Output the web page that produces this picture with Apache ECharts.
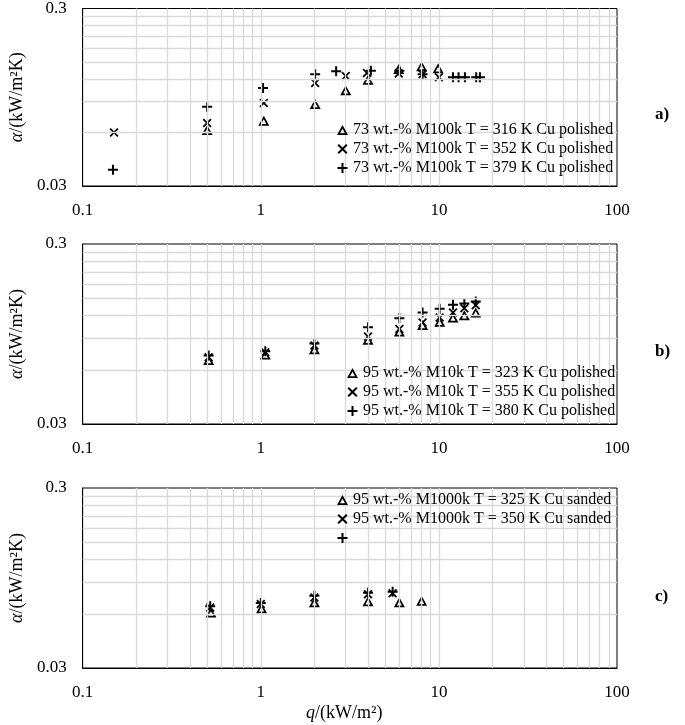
<!DOCTYPE html>
<html>
<head>
<meta charset="utf-8">
<script src="https://cdn.jsdelivr.net/npm/echarts@6/dist/echarts.min.js"></script>
<style>
html, body { margin: 0; padding: 0; background: #fff; }
#chart { width: 685px; height: 725px; }
</style>
</head>
<body>
<div id="chart"></div>
<script>
// panel a) 73 wt.-% M100k, Cu polished
var qA316 = [0.5, 1.04, 2.02, 3.0, 4.0, 5.95, 8.0, 9.9];
var aA316 = [0.062, 0.070, 0.087, 0.104, 0.119, 0.137, 0.142, 0.138];
var qA352 = [0.15, 0.5, 1.04, 2.02, 3.0, 3.95, 5.95, 8.1, 10.0];
var aA352 = [0.060, 0.068, 0.088, 0.114, 0.125, 0.130, 0.129, 0.128, 0.123];
var qA379 = [0.148, 0.5, 1.03, 2.02, 2.65, 4.15, 6.0, 8.1, 12.0, 12.9, 14.0, 16.2, 17.0];
var aA379 = [0.037, 0.084, 0.107, 0.128, 0.133, 0.134, 0.134, 0.128, 0.123, 0.123, 0.123, 0.123, 0.123];

// panel b) 95 wt.-% M10k, Cu polished
var qB = [0.51, 1.06, 2.0, 4.0, 6.0, 8.1, 10.1, 12.0, 13.9, 16.1];
var aB323 = [0.068, 0.073, 0.078, 0.088, 0.098, 0.1065, 0.111, 0.117, 0.1205, 0.125];
var aB355 = [0.0705, 0.075, 0.082, 0.092, 0.101, 0.110, 0.117, 0.125, 0.132, 0.137];
var aB380 = [0.072, 0.076, 0.084, 0.1035, 0.116, 0.125, 0.131, 0.138, 0.140, 0.144];

// panel c) 95 wt.-% M1000k, Cu sanded
var qC325 = [0.525, 1.01, 2.0, 4.0, 6.0, 8.0];
var aC325 = [0.061, 0.0645, 0.0695, 0.0705, 0.0695, 0.071];
var qC350 = [0.52, 1.0, 2.0, 4.0, 5.5];
var aC350 = [0.065, 0.068, 0.074, 0.077, 0.078];
var aCplus = [0.066, 0.069, 0.0755, 0.0785, 0.0795];

var xGridValues = [0.2, 0.3, 0.4, 0.5, 0.6, 0.7, 0.8, 0.9, 1, 2, 3, 4, 5, 6, 7, 8, 9, 10, 20, 30, 40, 50, 60, 70, 80, 90];
var yGridValues = [0.06, 0.09, 0.12, 0.15, 0.18, 0.21, 0.24, 0.27];
var yTickLabels = [0.03, 0.3];

var FONT = 'Liberation Serif';
var TRI = 'path://M5,0L10,9L0,9Z M5,3.3L2.72,7.4L7.28,7.4Z';
var CROSS = 'path://M0,1.4L1.4,0L5,3.6L8.6,0L10,1.4L6.4,5L10,8.6L8.6,10L5,6.4L1.4,10L0,8.6L3.6,5Z';
var PLUS = 'path://M4,0H6V4H10V6H6V10H4V6H0V4H4Z';

var tops = [8, 244, 488];
var panelH = [178, 180, 180];

function pts(q, a) {
  return q.map(function (v, i) { return [v, a[i]]; });
}

var grids = [], xAxes = [], yAxes = [], series = [];
tops.forEach(function (t, i) {
  grids.push({ left: 79, right: 68, top: t, height: panelH[i], show: true, borderColor: '#000', borderWidth: 1, containLabel: false });
  xAxes.push({
    type: 'log', gridIndex: i, min: 0.1, max: 100, logBase: 10,
    axisLine: { lineStyle: { color: '#000', width: 1 } },
    axisTick: { show: false }, splitLine: { show: false },
    axisLabel: { color: '#000', fontFamily: FONT, fontSize: 17, margin: 16 }
  });
  yAxes.push({
    type: 'log', gridIndex: i, min: 0.03, max: 0.3, logBase: 10,
    name: '{i|α}/(kW/m²K)', nameLocation: 'middle', nameRotate: 90, nameGap: 50,
    nameTextStyle: { color: '#000', fontFamily: FONT, fontSize: 18,
      rich: { i: { fontStyle: 'italic', fontFamily: FONT, fontSize: 18, color: '#000' } } },
    axisLine: { lineStyle: { color: '#000', width: 1 } },
    axisTick: { show: false }, splitLine: { show: false },
    axisLabel: {
      color: '#000', fontFamily: FONT, fontSize: 17, margin: 16, showMinLabel: true, showMaxLabel: true,
      formatter: function (v) {
        var r = +(+v).toPrecision(3);
        return yTickLabels.indexOf(r) >= 0 ? String(r) : '';
      }
    }
  });
  // light grid lines at Excel-style minor positions
  series.push({
    type: 'scatter', xAxisIndex: i, yAxisIndex: i, data: [], z: 1, silent: true,
    markLine: {
      silent: true, symbol: ['none', 'none'], label: { show: false }, animation: false,
      lineStyle: { color: '#d9d9d9', width: 1.3, type: 'solid' },
      emphasis: { disabled: true },
      data: xGridValues.map(function (v) { return { xAxis: v }; })
        .concat(yGridValues.map(function (v) { return { yAxis: v }; }))
    }
  });
});

function sc(name, idx, sym, size, data) {
  return {
    name: name, type: 'scatter', xAxisIndex: idx, yAxisIndex: idx, z: 3,
    symbol: sym, symbolSize: size, data: data,
    itemStyle: { color: '#000', opacity: 1 },
    emphasis: { disabled: true }, animation: false
  };
}

var nA1 = '73 wt.-% M100k T = 316 K Cu polished';
var nA2 = '73 wt.-% M100k T = 352 K Cu polished';
var nA3 = '73 wt.-% M100k T = 379 K Cu polished';
var nB1 = '95 wt.-% M10k T = 323 K Cu polished';
var nB2 = '95 wt.-% M10k T = 355 K Cu polished';
var nB3 = '95 wt.-% M10k T = 380 K Cu polished';
var nC1 = '95 wt.-% M1000k T = 325 K Cu sanded';
var nC2 = '95 wt.-% M1000k T = 350 K Cu sanded';
var nC3 = ' ';

series.push(sc(nA1, 0, TRI, [11, 10], pts(qA316, aA316)));
series.push(sc(nA2, 0, CROSS, [9, 9], pts(qA352, aA352)));
series.push(sc(nA3, 0, PLUS, [10, 10], pts(qA379, aA379)));
series.push(sc(nB1, 1, TRI, [11, 10], pts(qB, aB323)));
series.push(sc(nB2, 1, CROSS, [9, 9], pts(qB, aB355)));
series.push(sc(nB3, 1, PLUS, [10, 10], pts(qB, aB380)));
series.push(sc(nC1, 2, TRI, [11, 10], pts(qC325, aC325)));
series.push(sc(nC2, 2, CROSS, [9, 9], pts(qC350, aC350)));
series.push(sc(nC3, 2, PLUS, [10, 10], pts(qC350, aCplus)));

function legend(names, left, top) {
  var icons = [TRI, CROSS, PLUS];
  return {
    orient: 'vertical', left: left, top: top, itemWidth: 11, itemHeight: 10, itemGap: 3,
    selectedMode: false, padding: 0, z: 10,
    itemStyle: { color: '#000', opacity: 1 },
    textStyle: { color: '#000', fontFamily: FONT, fontSize: 16, lineHeight: 16 },
    data: names.map(function (n, i) { return { name: n, icon: icons[i] }; })
  };
}

var chart = echarts.init(document.getElementById('chart'), null, { renderer: 'canvas' });
chart.setOption({
  backgroundColor: '#fff',
  animation: false,
  grid: grids,
  xAxis: xAxes,
  yAxis: yAxes,
  legend: [
    legend([nA1, nA2, nA3], 337, 122),
    legend([nB1, nB2, nB3], 347, 365),
    legend([nC1, nC2, nC3], 337, 492)
  ],
  graphic: [
    { type: 'text', left: 655, top: 106, style: { text: 'a)', font: 'bold 17px "Liberation Serif"', fill: '#000' } },
    { type: 'text', left: 655, top: 343, style: { text: 'b)', font: 'bold 17px "Liberation Serif"', fill: '#000' } },
    { type: 'text', left: 655, top: 588, style: { text: 'c)', font: 'bold 17px "Liberation Serif"', fill: '#000' } },
    { type: 'text', left: 306, top: 704, style: {
      text: '{i|q}/(kW/m²)', font: '18px "Liberation Serif"', fill: '#000',
      rich: { i: { fontStyle: 'italic', fontFamily: FONT, fontSize: 18, fill: '#000' } } } }
  ],
  series: series
});
</script>
</body>
</html>
